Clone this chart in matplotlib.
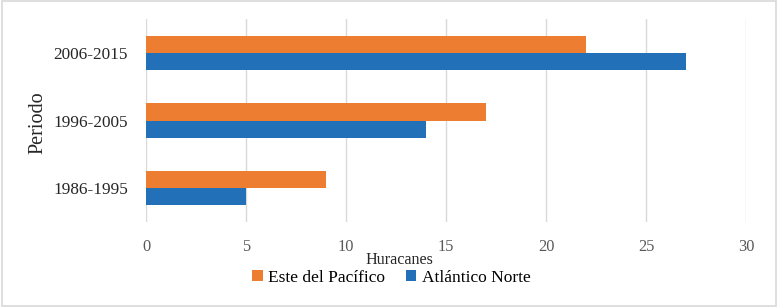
import matplotlib.pyplot as plt
from matplotlib.patches import Rectangle
import numpy as np

# Data
periods = ['1986-1995', '1996-2005', '2006-2015']
pacifico = [9, 17, 22]
atlantico = [5, 14, 27]
xticks = [0, 5, 10, 15, 20, 25, 30]

plt.rcParams['font.family'] = ['Liberation Serif', 'DejaVu Serif']

fig = plt.figure(figsize=(7.78, 3.07), dpi=100)
ax = fig.add_axes([0.1877, 0.2769, 0.7712, 0.6611])

y = np.arange(len(periods))
h = 0.252
ax.barh(y + h / 2, pacifico, height=h, color='#ED7D31', label='Este del Pacífico', zorder=3)
ax.barh(y - h / 2, atlantico, height=h, color='#2271B8', label='Atlántico Norte', zorder=3)

ax.set_xlim(0, 30)
ax.set_ylim(-0.5, 2.5)
ax.set_xticks(xticks)
ax.set_yticks(y)
ax.set_yticklabels(periods, fontsize=12.4, color='#262626')
ax.tick_params(axis='x', labelsize=11.8, labelcolor='#595959', length=0, pad=12)
ax.tick_params(axis='y', length=0, pad=13)
ax.grid(axis='x', color='#D9D9D9', linewidth=1, zorder=0)
for s in ax.spines.values():
    s.set_visible(False)

fig.text(0.514, 0.153, 'Huracanes', fontsize=11.6, ha='center', va='center', color='#262626')
fig.text(0.049, 0.60, 'Periodo', fontsize=14.5, rotation=90, ha='center', va='center', color='#262626')

ax.legend(loc='center', bbox_to_anchor=(0.503, 0.095), bbox_transform=fig.transFigure,
          ncol=2, frameon=False, fontsize=12.5, handlelength=0.6, handleheight=0.6,
          handletextpad=0.3, columnspacing=1.2)

fig.patches.append(Rectangle((0.002, 0.004), 0.996, 0.992, transform=fig.transFigure,
                             fill=False, edgecolor='#D9D9D9', linewidth=1.2))

fig.savefig('out.png', dpi=100)
